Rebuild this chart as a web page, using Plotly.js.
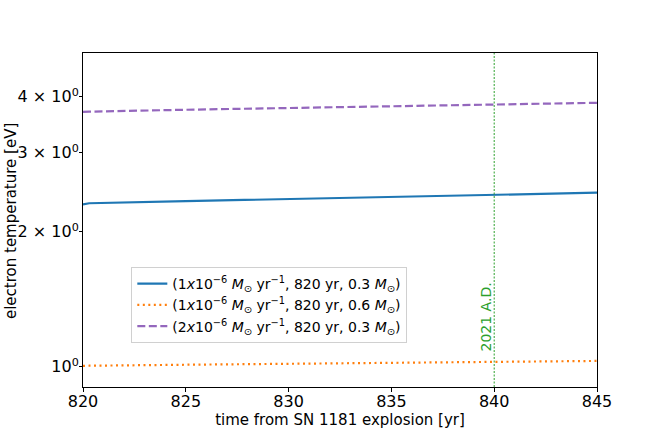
<!DOCTYPE html>
<html>
<head>
<meta charset="utf-8">
<script src="https://cdn.plot.ly/plotly-3.0.1.min.js"></script>
<style>
  html, body { margin: 0; padding: 0; background: #fff; }
  #chart { width: 664px; height: 443px; }
</style>
</head>
<body>
<div id="chart"></div>
<script>
// time since explosion [yr]
const years = [820, 820.3, 825, 830, 835, 840, 845];

// electron temperature [eV] for each model
const tempA = [2.300, 2.314, 2.339, 2.365, 2.391, 2.420, 2.443]; // 1e-6, 0.3 Msun
const tempB = [1.004, 1.005, 1.010, 1.016, 1.021, 1.025, 1.030]; // 1e-6, 0.6 Msun
const tempC = [3.700, 3.704, 3.740, 3.775, 3.808, 3.840, 3.876]; // 2e-6, 0.3 Msun

const labels = [
  '(1<i>x</i>10<sup>−6</sup> <i>M</i><sub>⊙</sub> yr<sup>−1</sup>, 820 yr, 0.3 <i>M</i><sub>⊙</sub>)',
  '(1<i>x</i>10<sup>−6</sup> <i>M</i><sub>⊙</sub> yr<sup>−1</sup>, 820 yr, 0.6 <i>M</i><sub>⊙</sub>)',
  '(2<i>x</i>10<sup>−6</sup> <i>M</i><sub>⊙</sub> yr<sup>−1</sup>, 820 yr, 0.3 <i>M</i><sub>⊙</sub>)'
];

const yTickVals = [1, 2, 3, 4];
const yTickText = ['10<sup>0</sup>', '2 × 10<sup>0</sup>', '3 × 10<sup>0</sup>', '4 × 10<sup>0</sup>'];
const xTickVals = [820, 825, 830, 835, 840, 845];

const markYear = 840;
const markLabel = '2021 A.D.';

const font = 'DejaVu Sans, sans-serif';

const traces = [
  { x: years, y: tempA, name: labels[0], mode: 'lines', line: { color: '#1f77b4', width: 2.2 } },
  { x: years, y: tempB, name: labels[1], mode: 'lines', line: { color: '#ff7f0e', width: 2.2, dash: '2px,3.5px' } },
  { x: years, y: tempC, name: labels[2], mode: 'lines', line: { color: '#9467bd', width: 2.2, dash: '8px,3.5px' } }
];

const layout = {
  width: 664,
  height: 443,
  margin: { l: 83, r: 67, t: 53, b: 56 },
  paper_bgcolor: '#fff',
  plot_bgcolor: '#fff',
  font: { family: font, size: 15, color: '#000' },
  showlegend: true,
  legend: {
    x: 0.094, y: 0.359, xanchor: 'left', yanchor: 'top',
    bgcolor: 'rgba(255,255,255,0.8)', bordercolor: '#d0d0d0', borderwidth: 1,
    font: { family: font, size: 14 },
    tracegroupgap: 0
  },
  xaxis: {
    range: [820, 845],
    tickvals: xTickVals,
    ticks: 'outside', ticklen: 4, tickcolor: '#000',
    ticklabelstandoff: -4,
    showgrid: false, zeroline: false,
    showline: true, linecolor: '#000', linewidth: 1, mirror: true,
    tickfont: { size: 16 },
    automargin: false,
    title: { text: 'time from SN 1181 explosion [yr]', font: { size: 15 }, standoff: 0 }
  },
  yaxis: {
    type: 'log',
    range: [-0.0453, 0.6994],
    tickvals: yTickVals,
    ticktext: yTickText,
    ticks: 'outside', ticklen: 3, tickcolor: '#000',
    ticklabelstandoff: -3,
    showgrid: false, zeroline: false,
    showline: true, linecolor: '#000', linewidth: 1, mirror: true,
    tickfont: { size: 16 },
    automargin: false
  },
  shapes: [{
    type: 'line', xref: 'x', yref: 'paper',
    x0: markYear, x1: markYear, y0: 0, y1: 1,
    line: { color: '#2ca02c', width: 1, dash: '2px,1.5px' }
  }],
  annotations: [{
    x: markYear - 0.4, y: Math.log10(1.294), xref: 'x', yref: 'y',
    text: markLabel, textangle: -90, showarrow: false,
    xanchor: 'center', yanchor: 'middle',
    font: { family: font, size: 14, color: '#2ca02c' }
  }, {
    x: -0.14, y: 0.497, xref: 'paper', yref: 'paper',
    text: 'electron temperature [eV]', textangle: -90, showarrow: false,
    xanchor: 'center', yanchor: 'middle',
    font: { family: font, size: 15, color: '#000' }
  }]
};

Plotly.newPlot('chart', traces, layout, { displayModeBar: false, staticPlot: true });
</script>
</body>
</html>
